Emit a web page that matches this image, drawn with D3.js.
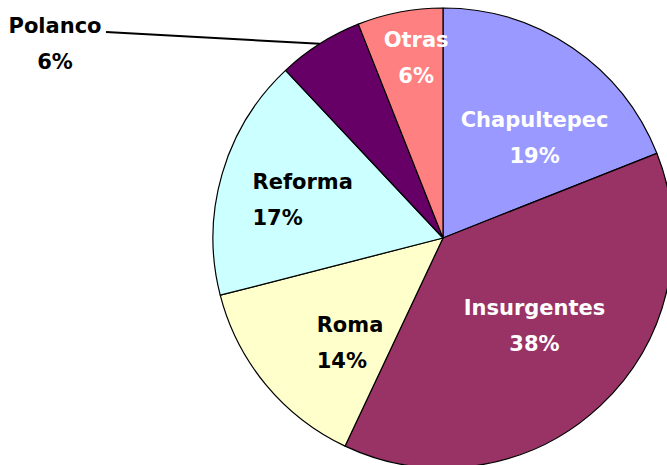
<!DOCTYPE html>
<html>
<head>
<meta charset="utf-8">
<script src="https://cdn.jsdelivr.net/npm/d3@7"></script>
<style>
  body { margin: 0; background: #fff; }
  svg { display: block; }
</style>
</head>
<body>
<div id="chart"></div>
<script>
// data
var categories = ["Chapultepec", "Insurgentes", "Roma", "Reforma", "Polanco", "Otras"];
var values = [19, 38, 14, 17, 6, 6];
var colors = ["#9999FF", "#993366", "#FFFFCC", "#CCFFFF", "#660066", "#FF8080"];
var textColors = ["#fff", "#fff", "#000", "#000", "#000", "#fff"];

var svgWidth = 667;
var svgHeight = 465;
var cx = 443, cy = 238, radius = 230;

// label placement relative to the slice centroid (at 0.6 r)
var labelNudge = [[14, 3], [-3, -24], [-20, 6], [-58, -10], [0, 0], [-1, -55]];
var labelAnchor = ["middle", "middle", "start", "start", "middle", "middle"];

var svg = d3.select("#chart")
  .append("svg")
  .attr("width", svgWidth)
  .attr("height", svgHeight);

var g = svg.append("g")
  .attr("transform", `translate(${cx}, ${cy})`);

var pie = d3.pie()
  .sort(null)
  .value(function(d) { return d; });

var arcs = pie(values);

var arc = d3.arc()
  .innerRadius(0)
  .outerRadius(radius);

var labelArc = d3.arc()
  .innerRadius(radius * 0.6)
  .outerRadius(radius * 0.6);

var edgeArc = d3.arc()
  .innerRadius(radius)
  .outerRadius(radius);

g.selectAll("path.slice")
  .data(arcs)
  .enter().append("path")
  .attr("class", "slice")
  .attr("d", arc)
  .attr("fill", function(d, i) { return colors[i]; })
  .attr("stroke", "#000")
  .attr("stroke-width", 1.2)
  .attr("stroke-linejoin", "round");

// Polanco label sits outside with a leader line
var outsideIdx = 4;
var outsidePos = [55 - cx, 33 - cy];

var labels = g.selectAll("text.lbl")
  .data(arcs)
  .enter().append("text")
  .attr("class", "lbl")
  .attr("transform", function(d, i) {
    if (i === outsideIdx) return `translate(${outsidePos[0]}, ${outsidePos[1]})`;
    var c = labelArc.centroid(d);
    return `translate(${c[0] + labelNudge[i][0]}, ${c[1] + labelNudge[i][1]})`;
  })
  .attr("text-anchor", function(d, i) { return labelAnchor[i]; })
  .style("font-family", "'DejaVu Sans', sans-serif")
  .style("font-weight", "bold")
  .style("font-size", "21px")
  .style("fill", function(d, i) { return textColors[i]; });

labels.append("tspan")
  .attr("x", 0)
  .attr("y", 0)
  .text(function(d, i) { return categories[i]; });

labels.append("tspan")
  .attr("x", 0)
  .attr("dy", 36)
  .text(function(d, i) {
    var total = d3.sum(values);
    return Math.round(values[i] / total * 100) + "%";
  });

var edge = edgeArc.centroid(arcs[outsideIdx]);
g.append("polyline")
  .attr("points", [[outsidePos[0] + 51, outsidePos[1] - 1], edge].join(" "))
  .attr("fill", "none")
  .attr("stroke", "#000")
  .attr("stroke-width", 2);
</script>
</body>
</html>
